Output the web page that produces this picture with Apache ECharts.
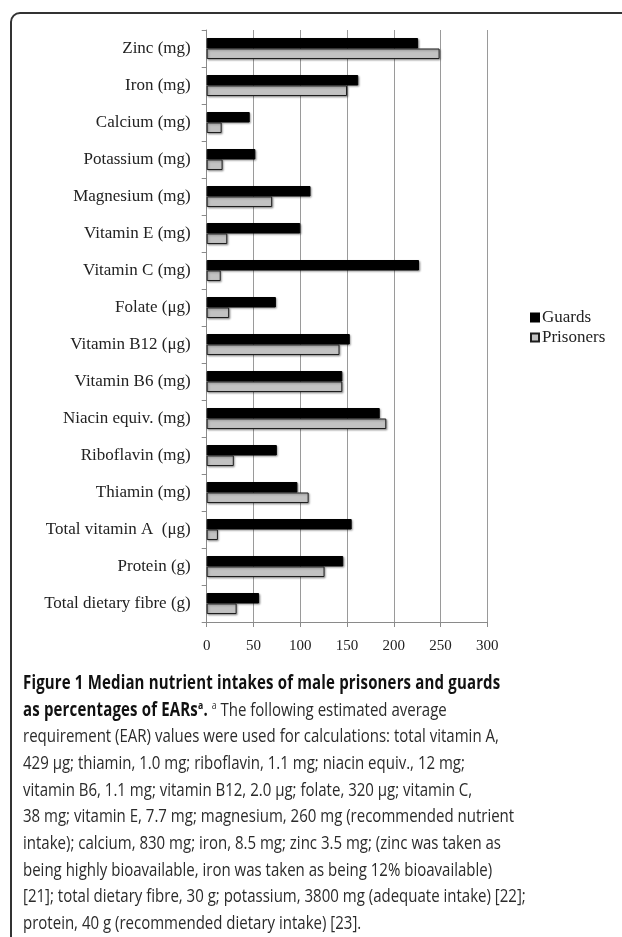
<!DOCTYPE html>
<html>
<head>
<meta charset="utf-8">
<script src="https://cdn.jsdelivr.net/npm/echarts@6/dist/echarts.min.js"></script>
<style>
  html, body { margin: 0; padding: 0; background: #fff; }
  #wrap { position: relative; width: 622px; height: 937px; overflow: hidden; }
  #chart { position: absolute; left: 0; top: 0; width: 622px; height: 937px; }
  #caption {
    position: absolute; left: 23px; top: 669px;
    font-family: "Open Sans", sans-serif; font-size: 19px; line-height: 26.67px;
    color: #2b2b2b; white-space: nowrap;
    transform: scaleX(0.79); transform-origin: 0 0;
  }
  #caption b { color: #111; letter-spacing: 0.2px; }
  #caption sup { font-size: 11px; line-height: 0; }
</style>
</head>
<body>
<div id="wrap">
  <div id="chart"></div>
  <div id="caption">
    <b>Figure 1 Median nutrient intakes of male prisoners and guards</b><br>
    <b>as percentages of EARs<sup>a</sup>.</b> <sup>a</sup> The following estimated average<br>
    requirement (EAR) values were used for calculations: total vitamin A,<br>
    429 μg; thiamin, 1.0 mg; riboflavin, 1.1 mg; niacin equiv., 12 mg;<br>
    vitamin B6, 1.1 mg; vitamin B12, 2.0 μg; folate, 320 μg; vitamin C,<br>
    38 mg; vitamin E, 7.7 mg; magnesium, 260 mg (recommended nutrient<br>
    intake); calcium, 830 mg; iron, 8.5 mg; zinc 3.5 mg; (zinc was taken as<br>
    being highly bioavailable, iron was taken as being 12% bioavailable)<br>
    [21]; total dietary fibre, 30 g; potassium, 3800 mg (adequate intake) [22];<br>
    protein, 40 g (recommended dietary intake) [23].
  </div>
</div>
<script>
// nutrients, top to bottom as in the figure
const nutrients = [
  'Zinc (mg)', 'Iron (mg)', 'Calcium (mg)', 'Potassium (mg)', 'Magnesium (mg)',
  'Vitamin E (mg)', 'Vitamin C (mg)', 'Folate (μg)', 'Vitamin B12 (μg)', 'Vitamin B6 (mg)',
  'Niacin equiv. (mg)', 'Riboflavin (mg)', 'Thiamin (mg)', 'Total vitamin A  (μg)',
  'Protein (g)', 'Total dietary fibre (g)'
];

// median intake as % of EAR
const guards    = [226, 162, 46, 52, 111, 100, 227, 74, 153, 145, 185, 75, 97, 155, 146, 56];
const prisoners = [249, 150, 16, 17, 70, 22, 15, 24, 142, 145, 192, 29, 109, 12, 126, 32];

const xTicks = { min: 0, max: 300, step: 50 };

const chart = echarts.init(document.getElementById('chart'));

const serif = '"Liberation Serif", "DejaVu Serif", serif';
const barShadow = {
  shadowColor: 'rgba(0,0,0,0.35)',
  shadowBlur: 2,
  shadowOffsetX: 1,
  shadowOffsetY: 1
};

chart.setOption({
  animation: false,
  backgroundColor: '#fff',
  grid: {
    left: 206.7, right: 134.7, top: 30, bottom: 315,
    outerBoundsMode: 'none'
  },
  legend: {
    orient: 'vertical',
    left: 525, top: 304,
    itemWidth: 8, itemHeight: 8, itemGap: 3,
    icon: 'rect',
    textStyle: { fontFamily: serif, fontSize: 17, color: '#222', padding: [0, 0, 0, -2] },
    data: ['Guards', 'Prisoners']
  },
  xAxis: {
    type: 'value',
    min: xTicks.min, max: xTicks.max, interval: xTicks.step,
    axisLine: { show: true, lineStyle: { color: '#8a8a8a', width: 1 } },
    axisTick: { show: true, length: 5, lineStyle: { color: '#8a8a8a' } },
    axisLabel: { margin: 17, fontFamily: serif, fontSize: 15, color: '#222' },
    splitLine: { show: true, lineStyle: { color: '#9a9a9a', width: 1 } }
  },
  yAxis: {
    type: 'category',
    inverse: true,
    data: nutrients,
    axisLine: { show: true, lineStyle: { color: '#8a8a8a', width: 1 } },
    axisTick: { show: true, length: 5, lineStyle: { color: '#8a8a8a' } },
    axisLabel: { margin: 16, fontFamily: serif, fontSize: 17, color: '#222' }
  },
  series: [
    {
      name: 'Guards',
      type: 'bar',
      data: guards,
      barWidth: 10.5,
      barGap: '0%',
      itemStyle: Object.assign({ color: '#000', borderColor: '#000', borderWidth: 1 }, barShadow)
    },
    {
      name: 'Prisoners',
      type: 'bar',
      data: prisoners,
      barWidth: 10.5,
      barGap: '0%',
      itemStyle: Object.assign({ color: '#c2c2c2', borderColor: '#1e1e1e', borderWidth: 1 }, barShadow)
    }
  ],
  graphic: [
    {
      type: 'rect',
      shape: { x: 11, y: 13, width: 640, height: 960, r: 9 },
      style: { fill: 'none', stroke: '#333', lineWidth: 2 },
      silent: true
    }
  ]
});
</script>
</body>
</html>
